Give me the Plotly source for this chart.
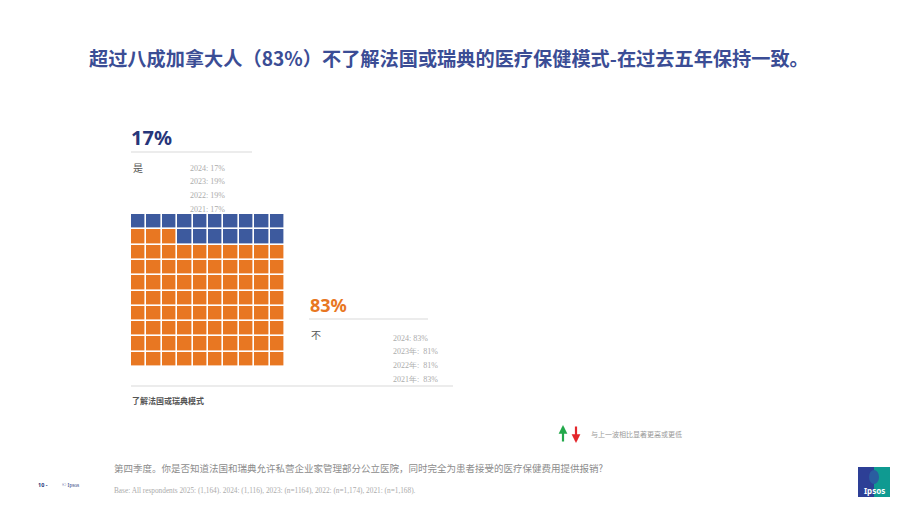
import plotly.graph_objects as go

# ---- data ----
answers = ["是", "不"]
shares_2025 = [17, 83]
history_yes = ["2024: 17%", "2023: 19%", "2022: 19%", "2021: 17%"]
history_no = ["2024: 83%", "2023年:  81%", "2022年:  81%", "2021年:  83%"]
grid_cols = 10
grid_rows = 10

W, H = 920, 518
BLUE = "#3d5a9e"
ORANGE = "#e87722"
NAVY = "#27367a"
TITLE = "#3b4d95"
GRAY = "#ababab"
CJK = "Noto Sans CJK SC"
SERIF = "Liberation Serif"

# Build waffle: orange fills from bottom-left row by row, blue fills the rest (top)
no_count = shares_2025[1]
z = []
for r in range(grid_rows):  # r=0 bottom row
    row = []
    for c in range(grid_cols):
        idx = r * grid_cols + c
        row.append(1 if idx < no_count else 0)
    z.append(row)

def px(x):
    return x / W

def py(y):
    return 1 - y / H

fig = go.Figure()
fig.add_trace(go.Heatmap(
    z=z,
    x=list(range(grid_cols)),
    y=list(range(grid_rows)),
    colorscale=[[0, BLUE], [0.5, BLUE], [0.5, ORANGE], [1, ORANGE]],
    zmin=0, zmax=1,
    showscale=False,
    xgap=1.6, ygap=1.6,
    hoverinfo="skip",
))

fig.update_layout(
    width=W, height=H,
    margin=dict(l=0, r=0, t=0, b=0),
    paper_bgcolor="white",
    plot_bgcolor="white",
    showlegend=False,
    xaxis=dict(domain=[px(131), px(285)], range=[-0.5, grid_cols - 0.5],
               visible=False, fixedrange=True),
    yaxis=dict(domain=[py(367), py(214)], range=[-0.5, grid_rows - 0.5],
               visible=False, fixedrange=True),
)

ann = []

def txt(x, y, text, size, color, family=CJK, anchor="left", yanchor="middle"):
    ann.append(dict(x=px(x), y=py(y), xref="paper", yref="paper", text=text,
                    showarrow=False, xanchor=anchor, yanchor=yanchor,
                    font=dict(size=size, color=color, family=family)))

# title
txt(449, 58, "<b>超过八成加拿大人（83%）不了解法国或瑞典的医疗保健模式-在过去五年保持一致。</b>",
    19.2, TITLE, anchor="center")

# yes block
txt(129, 137, f"<b>{shares_2025[0]}%</b>", 20, NAVY, family="Noto Sans")
txt(131, 167, answers[0], 10, "#555555")
for i, t in enumerate(history_yes):
    txt(188, 168 + i * 13.7, t, 8, GRAY, family=SERIF)

# no block
txt(308, 305, f"<b>{shares_2025[1]}%</b>", 18, ORANGE, family="Noto Sans")
txt(309, 334, answers[1], 10, "#555555")
for i, t in enumerate(history_no):
    txt(391, 338 + i * 13.7, t, 8, GRAY, family=SERIF)

txt(130, 400, "<b>了解法国或瑞典模式</b>", 8, "#555555")

# legend for arrows
txt(589, 434, "与上一波相比显著更高或更低", 7, "#999999")
ann.append(dict(x=px(563), y=py(425), xref="paper", yref="paper",
                ax=0, ay=18, axref="pixel", ayref="pixel", text="", showarrow=True,
                arrowhead=2, arrowsize=0.8, arrowwidth=2.2, arrowcolor="#22a84a"))
ann.append(dict(x=px(576), y=py(443), xref="paper", yref="paper",
                ax=0, ay=-18, axref="pixel", ayref="pixel", text="", showarrow=True,
                arrowhead=2, arrowsize=0.8, arrowwidth=2.2, arrowcolor="#e3262b"))

# footer
txt(112, 468, "第四季度。你是否知道法国和瑞典允许私营企业家管理部分公立医院，同时完全为患者接受的医疗保健费用提供报销?",
    9.5, "#8c8c8c")
txt(112, 490, "Base: All respondents 2025: (1,164). 2024: (1,116), 2023: (n=1164), 2022: (n=1,174), 2021: (n=1,168).",
    7.3, GRAY, family=SERIF)
txt(36, 485, "<b>10 -</b>", 5.5, "#27367a", family="Noto Sans")
txt(60, 485, "© Ipsos", 5.5, "#27367a", family=SERIF)

shapes = []
def hline(x0, x1, y, color="#d9d9d9"):
    shapes.append(dict(type="line", xref="paper", yref="paper", x0=px(x0), x1=px(x1),
                       y0=py(y), y1=py(y), line=dict(color=color, width=1)))

hline(131, 252, 152)
hline(309, 428, 319)
hline(131, 453, 386)

# ipsos logo blocks
shapes.append(dict(type="rect", xref="paper", yref="paper", x0=px(858), x1=px(874),
                   y0=py(497), y1=py(467), fillcolor="#2d3f96", line=dict(width=0)))
shapes.append(dict(type="rect", xref="paper", yref="paper", x0=px(874), x1=px(890),
                   y0=py(497), y1=py(467), fillcolor="#0f9a91", line=dict(width=0)))
shapes.append(dict(type="circle", xref="paper", yref="paper", x0=px(869), x1=px(879),
                   y0=py(484), y1=py(470), fillcolor="#2a5da0", line=dict(width=0)))

# logo text
txt(874, 490, "<b>Ipsos</b>", 8, "white", family="Noto Sans", anchor="center")

fig.update_layout(annotations=ann, shapes=shapes)

fig.write_html("out.html")
